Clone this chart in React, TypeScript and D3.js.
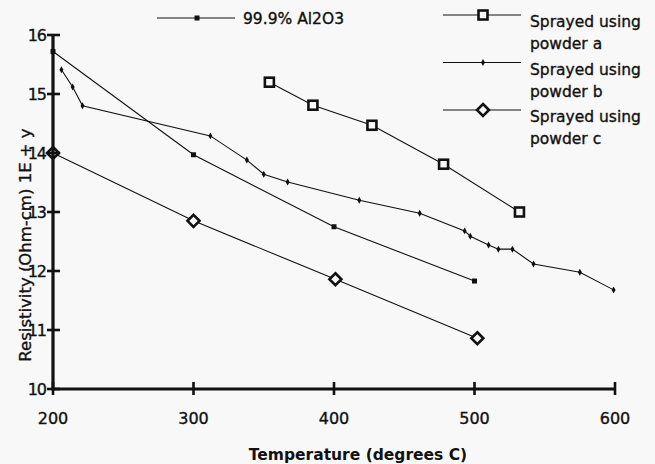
import React, { useEffect, useRef } from "react";
import * as d3 from "d3";

// Resistivity vs temperature for alumina and three sprayed coatings
const xTicks = [200, 300, 400, 500, 600];
const yTicks = [10, 11, 12, 13, 14, 15, 16];
const yTickLabels = ["10", "11", "12", "13", "14", "15", "16"];

const tempAl2O3 = [200, 300, 400, 500];
const resAl2O3 = [15.72, 13.97, 12.75, 11.83];

const tempA = [354, 385, 427, 478, 532];
const resA = [15.2, 14.81, 14.47, 13.81, 13.0];

const tempB = [206, 214, 221, 312, 338, 350, 367, 418, 461, 493, 497, 510, 517, 527, 542, 575, 599];
const resB = [15.41, 15.12, 14.8, 14.29, 13.88, 13.64, 13.51, 13.2, 12.98, 12.68, 12.59, 12.44, 12.37, 12.37, 12.12, 11.98, 11.68];

const tempC = [200, 300, 401, 502];
const resC = [14.0, 12.85, 11.86, 10.86];

const legendLabels = [
  ["99.9% Al2O3"],
  ["Sprayed using", "powder a"],
  ["Sprayed using", "powder b"],
  ["Sprayed using", "powder c"],
];

const W = 655;
const H = 464;
const FONT = "'DejaVu Sans', Verdana, sans-serif";
const INK = "#111";
const BG = "#f8f8f8";

type Marker = "smallSquare" | "openSquare" | "dot" | "openDiamond";

function drawMarker(g: d3.Selection<SVGGElement, unknown, null, undefined>, kind: Marker, x: number, y: number) {
  if (kind === "smallSquare") {
    g.append("rect").attr("x", x - 2.5).attr("y", y - 2.5).attr("width", 5).attr("height", 5).attr("fill", INK);
  } else if (kind === "openSquare") {
    g.append("rect").attr("x", x - 4.5).attr("y", y - 4.5).attr("width", 9).attr("height", 9)
      .attr("fill", BG).attr("stroke", INK).attr("stroke-width", 2.6);
  } else if (kind === "dot") {
    g.append("path").attr("d", d3.symbol(d3.symbolDiamond, 14)()).attr("transform", `translate(${x},${y})`).attr("fill", INK);
  } else {
    g.append("path").attr("d", "M0,-6L6,0L0,6L-6,0Z").attr("transform", `translate(${x},${y})`)
      .attr("fill", BG).attr("stroke", INK).attr("stroke-width", 2.6);
  }
}

export default function App() {
  const ref = useRef<SVGSVGElement>(null);

  useEffect(() => {
    const svg = d3.select(ref.current);
    svg.selectAll("*").remove();

    const x = d3.scaleLinear().domain([200, 600]).range([53, 615]);
    const y = d3.scaleLinear().domain([10, 16]).range([389, 35]);

    svg.append("rect").attr("width", W).attr("height", H).attr("fill", BG);

    const series: { t: number[]; r: number[]; m: Marker }[] = [
      { t: tempAl2O3, r: resAl2O3, m: "smallSquare" },
      { t: tempA, r: resA, m: "openSquare" },
      { t: tempB, r: resB, m: "dot" },
      { t: tempC, r: resC, m: "openDiamond" },
    ];

    const line = d3.line<[number, number]>().x((d) => x(d[0])).y((d) => y(d[1]));
    const plot = svg.append("g");
    series.forEach((s) => {
      const pts = s.t.map((t, i) => [t, s.r[i]] as [number, number]);
      plot.append("path").attr("d", line(pts)).attr("fill", "none").attr("stroke", INK).attr("stroke-width", 1.1);
    });

    // Axes with ticks crossing the axis lines
    const axes = svg.append("g").attr("stroke", INK);
    axes.append("line").attr("x1", x(200)).attr("x2", x(200)).attr("y1", y(16)).attr("y2", y(10) + 1.5).attr("stroke-width", 3.2);
    axes.append("line").attr("x1", x(200)).attr("x2", x(600)).attr("y1", y(10)).attr("y2", y(10)).attr("stroke-width", 3.2);
    yTicks.forEach((v) => {
      axes.append("line").attr("x1", x(200) - 6).attr("x2", x(200) + 7).attr("y1", y(v)).attr("y2", y(v)).attr("stroke-width", 2.6);
    });
    xTicks.forEach((v) => {
      axes.append("line").attr("x1", x(v)).attr("x2", x(v)).attr("y1", y(10) - 7).attr("y2", y(10) + 6).attr("stroke-width", 2.6);
    });

    series.forEach((s) => {
      const g = plot.append("g");
      s.t.forEach((t, i) => drawMarker(g, s.m, x(t), y(s.r[i])));
    });

    const txt = svg.append("g").attr("font-family", FONT).attr("fill", INK)
      .attr("stroke", INK).attr("stroke-width", 0.35);
    yTicks.forEach((v, i) => {
      txt.append("text").attr("x", x(200) - 7).attr("y", y(v) + 6).attr("text-anchor", "end")
        .attr("font-size", 16).attr("letter-spacing", -1).text(yTickLabels[i]);
    });
    xTicks.forEach((v) => {
      txt.append("text").attr("x", x(v)).attr("y", 424).attr("text-anchor", "middle")
        .attr("font-size", 16).text(String(v));
    });
    txt.append("text").attr("x", 358).attr("y", 460).attr("text-anchor", "middle")
      .attr("font-size", 15.5).attr("font-weight", "bold").attr("stroke-width", 0).text("Temperature (degrees C)");
    txt.append("text").attr("transform", "translate(31,245) rotate(-90)").attr("text-anchor", "middle")
      .attr("font-size", 16.5).text("Resistivity (Ohm-cm) 1E + y");

    // Legend
    const leg = svg.append("g");
    const legendRows: { x1: number; x2: number; mx: number; ly: number; tx: number; m: Marker }[] = [
      { x1: 157, x2: 235, mx: 197, ly: 18, tx: 243, m: "smallSquare" },
      { x1: 443, x2: 521, mx: 483, ly: 15, tx: 530, m: "openSquare" },
      { x1: 443, x2: 521, mx: 483, ly: 62.5, tx: 530, m: "dot" },
      { x1: 443, x2: 521, mx: 483, ly: 110, tx: 530, m: "openDiamond" },
    ];
    legendRows.forEach((r, i) => {
      leg.append("line").attr("x1", r.x1).attr("x2", r.x2).attr("y1", r.ly).attr("y2", r.ly)
        .attr("stroke", INK).attr("stroke-width", 1.1);
      const g = leg.append("g");
      drawMarker(g, r.m, r.mx, r.ly);
      const base = i === 0 ? r.ly + 6 : r.ly + 12;
      legendLabels[i].forEach((lbl, j) => {
        leg.append("text").attr("x", r.tx).attr("y", base + j * 22).attr("font-family", FONT)
          .attr("font-size", 15.5).attr("fill", INK).attr("stroke", INK).attr("stroke-width", 0.35).text(lbl);
      });
    });
  }, []);

  return (
    <svg ref={ref} width={W} height={H} style={{ position: "absolute", left: 0, top: 0 }} />
  );
}
